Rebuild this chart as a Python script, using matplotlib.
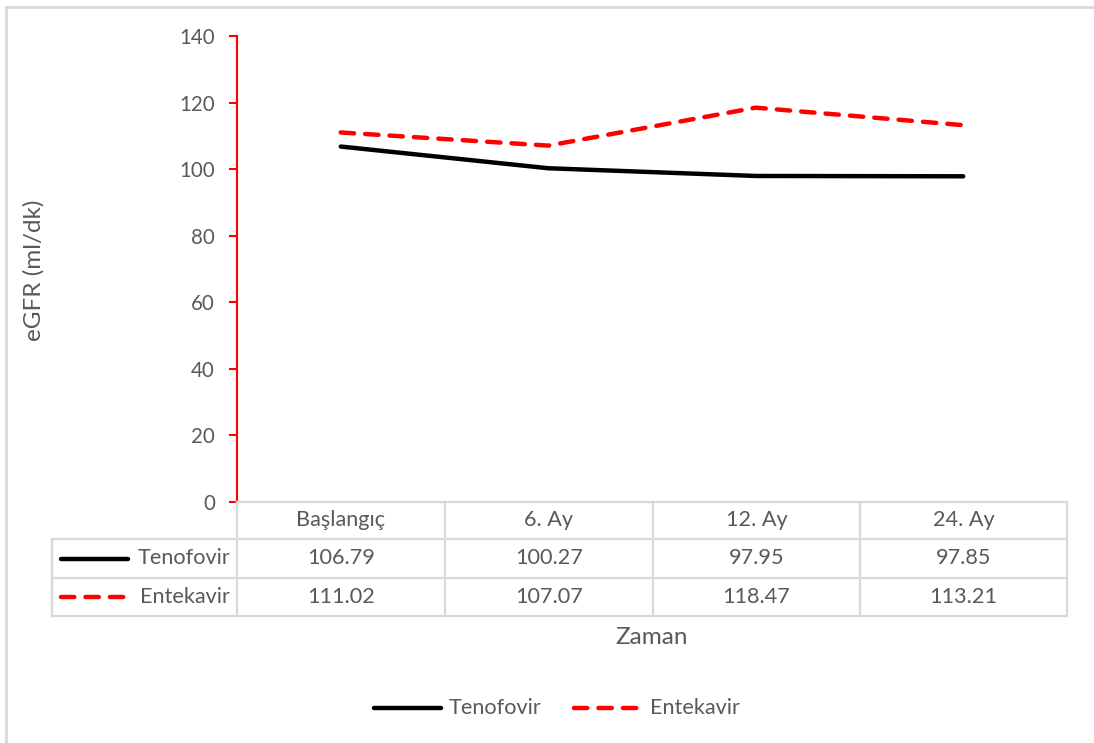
import matplotlib
matplotlib.use("Agg")
import matplotlib.pyplot as plt
from matplotlib.lines import Line2D

categories = ["Başlangıç", "6. Ay", "12. Ay", "24. Ay"]
tenofovir = [106.79, 100.27, 97.95, 97.85]
entekavir = [111.02, 107.07, 118.47, 113.21]
series_names = ["Tenofovir", "Entekavir"]
yticks = [0, 20, 40, 60, 80, 100, 120, 140]

W, H = 1094, 743
fig = plt.figure(figsize=(W / 100, H / 100), dpi=100)
plt.rcParams['font.family'] = ['Lato', 'DejaVu Sans']
TXT = "#595959"
GRID = "#d9d9d9"
FS = 15.6
FS_TICK = 14.8
FS_TITLE = 17.5

def fx(px):
    return px / W

def fy(py):
    return 1 - py / H

# axes placement
x0, x1, ytop, ybot = 237, 1067, 36, 502
ax = fig.add_axes([fx(x0), fy(ybot), fx(x1) - fx(x0), fy(ytop) - fy(ybot)])
ax.set_xlim(-0.5, len(categories) - 0.5)
ax.set_ylim(0, 140)

lw = 3.2
styles = [dict(color="black", lw=lw, solid_capstyle="round"),
          dict(color="#ff0000", lw=lw, dashes=(3.0, 2.5), dash_capstyle="round")]
xs = list(range(len(categories)))
ax.plot(xs, tenofovir, **styles[0])
ax.plot(xs, entekavir, **styles[1])

for s in ["top", "right", "bottom"]:
    ax.spines[s].set_visible(False)
ax.spines["left"].set_color("#ff0000")
ax.spines["left"].set_linewidth(1.5)
ax.set_yticks(yticks)
ax.tick_params(axis="y", colors="#ff0000", length=6, width=1.5, labelcolor=TXT,
               labelsize=FS_TICK, pad=10)
ax.set_xticks([])

# figure border
fig.add_artist(Line2D([fx(6), 1], [fy(7), fy(7)], color=GRID, lw=2))
fig.add_artist(Line2D([fx(6), fx(6)], [fy(7), 0], color=GRID, lw=2))

# data table
col_edges = [237, 445, 653, 860, 1067]
row_edges = [502, 539, 578, 616]
left = 52
lkw = dict(color=GRID, lw=1.6)
fig.add_artist(Line2D([fx(237), fx(1067)], [fy(502), fy(502)], **lkw))
for ry in row_edges[1:]:
    fig.add_artist(Line2D([fx(left), fx(1067)], [fy(ry), fy(ry)], **lkw))
fig.add_artist(Line2D([fx(left), fx(left)], [fy(539), fy(616)], **lkw))
for cx in col_edges:
    fig.add_artist(Line2D([fx(cx), fx(cx)], [fy(502), fy(616)], **lkw))

for i, cat in enumerate(categories):
    cxm = (col_edges[i] + col_edges[i + 1]) / 2
    fig.text(fx(cxm), fy((502 + 539) / 2), cat, ha="center", va="center",
             fontsize=FS, color=TXT)
    for r, vals in enumerate([tenofovir, entekavir]):
        fig.text(fx(cxm), fy((row_edges[r + 1] + row_edges[r + 2]) / 2),
                 f"{vals[i]:.2f}", ha="center", va="center", fontsize=FS, color=TXT)

for r, name in enumerate(series_names):
    yc = fy((row_edges[r + 1] + row_edges[r + 2]) / 2)
    fig.add_artist(Line2D([fx(61), fx(128)], [yc, yc], **styles[r]))
    fig.text(fx(230), yc, name, ha="right", va="center", fontsize=FS, color=TXT)

# axis labels
fig.text(fx(34), fy(270), "eGFR (ml/dk)", rotation=90, ha="center", va="center",
         fontsize=FS_TITLE, color=TXT)
fig.text(fx(652), fy(637), "Zaman", ha="center", va="center", fontsize=FS_TITLE, color=TXT)

# legend
ly = fy(708)
fig.add_artist(Line2D([fx(374), fx(441)], [ly, ly], **styles[0]))
fig.text(fx(449), ly, series_names[0], ha="left", va="center", fontsize=FS, color=TXT)
fig.add_artist(Line2D([fx(574), fx(638)], [ly, ly], **styles[1]))
fig.text(fx(650), ly, series_names[1], ha="left", va="center", fontsize=FS, color=TXT)

fig.savefig("out.png", dpi=100)
